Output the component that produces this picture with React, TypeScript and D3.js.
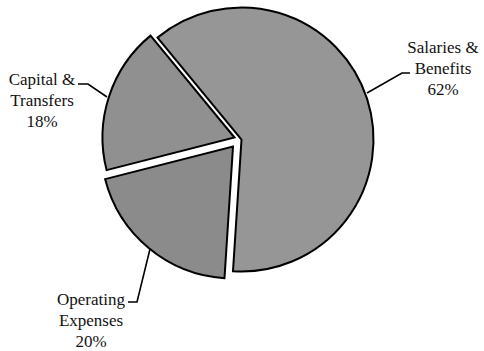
import React from "react";
import * as d3 from "d3";

const categories = ["Salaries & Benefits", "Operating Expenses", "Capital & Transfers"];
const values = [62, 20, 18];
const labelLines = [["Salaries &", "Benefits", "62%"], ["Operating", "Expenses", "20%"], ["Capital &", "Transfers", "18%"]];
const fills = ["#969696", "#8b8b8b", "#909090"];

// layout
const R = 132;
const offsets = [[241.5, 139.5], [233, 146.5], [234.5, 137.5]];
const labelPos = [[443, 53], [91, 305], [42, 85]];
const leaders = [
  [[410, 73], [402, 73], [367, 93]],
  [[128, 302], [137, 302], [150, 249]],
  [[78, 84], [88, 84], [107, 97]],
];

export default function App() {
  const pie = d3.pie<number>().sort(null).startAngle((-39.5 * Math.PI) / 180).endAngle((320.5 * Math.PI) / 180);
  const arcs = pie(values);
  const arcGen = d3.arc<d3.PieArcDatum<number>>().innerRadius(0).outerRadius(R);
  const line = d3.line();
  return (
    <svg width={484} height={351} style={{ position: "absolute", left: 0, top: 0, background: "#fff" }}>
      {arcs.map((a, i) => (
        <path
          key={categories[i]}
          d={arcGen(a) || ""}
          transform={`translate(${offsets[i][0]},${offsets[i][1]})`}
          fill={fills[i]}
          stroke="#000"
          strokeWidth={2}
          strokeLinejoin="miter"
        />
      ))}
      {leaders.map((pts, i) => (
        <path key={"l" + i} d={line(pts as [number, number][]) || ""} fill="none" stroke="#000" strokeWidth={1.6} />
      ))}
      {labelLines.map((lines, i) => (
        <text key={"t" + i} fontFamily="'Liberation Serif', 'Times New Roman', serif" fontSize={17} fill="#111" textAnchor="middle">
          {lines.map((s, j) => (
            <tspan key={j} x={labelPos[i][0]} y={labelPos[i][1] + j * 21}>
              {s}
            </tspan>
          ))}
        </text>
      ))}
    </svg>
  );
}
